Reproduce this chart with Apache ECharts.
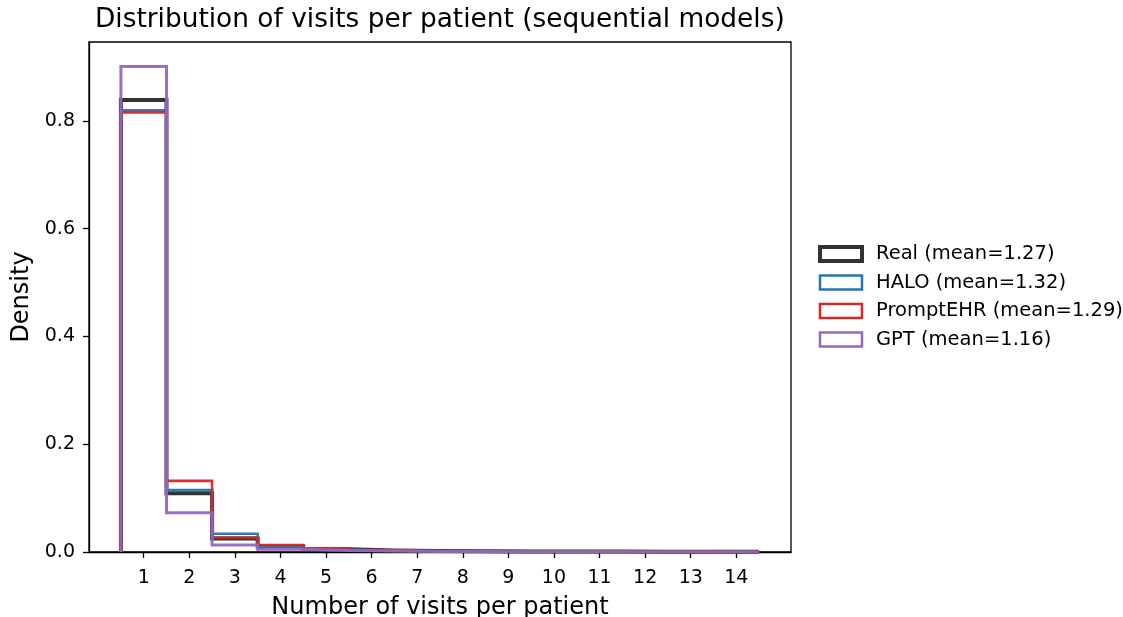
<!DOCTYPE html>
<html>
<head>
<meta charset="utf-8">
<script src="https://cdn.jsdelivr.net/npm/echarts@6/dist/echarts.min.js"></script>
<style>
html, body { margin: 0; padding: 0; background: #fff; }
#chart { width: 1123px; height: 617px; }
</style>
</head>
<body>
<div id="chart"></div>
<script>
// bins are centred on 1..14 (edges at k-0.5, k+0.5)
var visits = [1, 2, 3, 4, 5, 6, 7, 8, 9, 10, 11, 12, 13, 14];
var realDensity = [0.839, 0.109, 0.025, 0.010, 0.005, 0.003, 0.002, 0.0015, 0.001, 0.001, 0.0007, 0.0005, 0.0004, 0.0003];
var haloDensity = [0.820, 0.115, 0.034, 0.009, 0.004, 0.003, 0.002, 0.002, 0.0015, 0.001, 0.001, 0.0008, 0.0005, 0.0004];
var promptDensity = [0.816, 0.132, 0.027, 0.013, 0.007, 0.003, 0.001, 0.001, 0.0005, 0.0005, 0.0003, 0.0002, 0.0002, 0.0001];
var gptDensity = [0.901, 0.073, 0.013, 0.005, 0.003, 0.002, 0.001, 0.0008, 0.0005, 0.0004, 0.0003, 0.0002, 0.0001, 0.0001];
var yTicks = [0, 0.2, 0.4, 0.6, 0.8];
var names = ['Real (mean=1.27)', 'HALO (mean=1.32)', 'PromptEHR (mean=1.29)', 'GPT (mean=1.16)'];
var colors = ['#333333', '#1f77b4', '#d62728', '#9467bd'];
var widths = [4, 2.6, 2.6, 3];

var font = 'DejaVu Sans';

// outline of a step histogram: up the first edge, across each bin, down the last edge
function stepOutline(heights) {
    var pts = [];
    pts.push([visits[0] - 0.5, 0]);
    for (var i = 0; i < visits.length; i++) {
        pts.push([visits[i] - 0.5, heights[i]]);
        pts.push([visits[i] + 0.5, heights[i]]);
    }
    pts.push([visits[visits.length - 1] + 0.5, 0]);
    return pts;
}

var allData = [realDensity, haloDensity, promptDensity, gptDensity];
var series = [];
for (var s = 0; s < allData.length; s++) {
    series.push({
        name: names[s],
        type: 'line',
        data: stepOutline(allData[s]),
        showSymbol: false,
        symbol: 'none',
        z: 2 + s,
        lineStyle: { color: colors[s], width: widths[s], opacity: s == 0 ? 1 : 0.95, join: 'miter' },
        itemStyle: { color: colors[s] }
    });
}

var legendData = [];
for (var k = 0; k < names.length; k++) {
    legendData.push({
        name: names[k],
        icon: 'rect',
        itemStyle: { color: '#fff', borderColor: colors[k], borderWidth: k == 0 ? 4 : 2.5 }
    });
}

var chart = echarts.init(document.getElementById('chart'));
var option = {
    animation: false,
    backgroundColor: '#fff',
    title: {
        text: 'Distribution of visits per patient (sequential models)',
        left: 95,
        top: 7,
        padding: 0,
        textStyle: { fontFamily: font, fontSize: 26.4, fontWeight: 'normal', color: '#000' }
    },
    legend: {
        orient: 'vertical',
        left: 813,
        top: 239,
        itemWidth: 42,
        itemHeight: 14,
        itemGap: 8.5,
        data: legendData,
        textStyle: { fontFamily: font, fontSize: 19.5, color: '#000', padding: [0, 0, 0, 9] }
    },
    grid: {
        left: 89, right: 332, top: 42, bottom: 65,
        outerBoundsMode: 'none',
        containLabel: false,
        show: true, borderColor: '#000', borderWidth: 1.3, backgroundColor: 'transparent'
    },
    xAxis: {
        type: 'value',
        min: -0.2,
        max: 15.2,
        name: 'Number of visits per patient',
        nameLocation: 'middle',
        nameGap: 44,
        nameTextStyle: { fontFamily: font, fontSize: 24, color: '#000' },
        axisLine: { show: true, onZero: false, lineStyle: { color: '#000', width: 1.3 } },
        axisTick: { show: true, inside: false, length: 6, customValues: visits, lineStyle: { color: '#000', width: 1.3 } },
        axisLabel: { customValues: visits, margin: 17, fontFamily: font, fontSize: 19, color: '#000' },
        splitLine: { show: false }
    },
    yAxis: {
        type: 'value',
        min: 0,
        max: 0.9466,
        name: 'Density',
        nameLocation: 'middle',
        nameGap: 55,
        nameTextStyle: { fontFamily: font, fontSize: 24, color: '#000' },
        axisLine: { show: true, onZero: false, lineStyle: { color: '#000', width: 1.3 } },
        axisTick: { show: true, inside: false, length: 6, customValues: yTicks, lineStyle: { color: '#000', width: 1.3 } },
        axisLabel: {
            customValues: yTicks, margin: 14, fontFamily: font, fontSize: 19, color: '#000',
            formatter: function (v) { return v.toFixed(1); }
        },
        splitLine: { show: false }
    },
    series: series
};
chart.setOption(option);
</script>
</body>
</html>
